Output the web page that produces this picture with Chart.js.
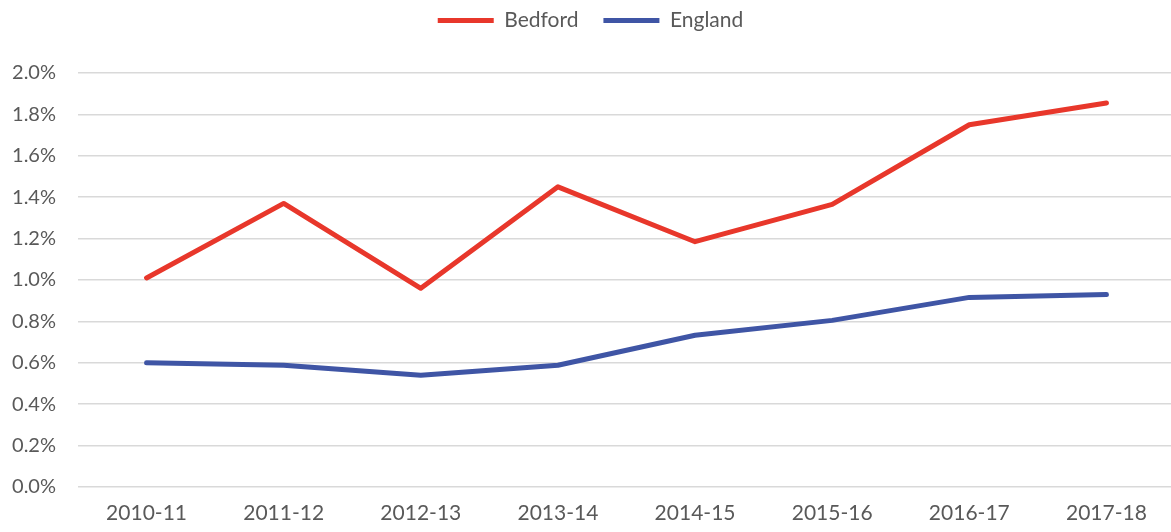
<!DOCTYPE html>
<html><head><meta charset="utf-8">
<script src="https://cdn.jsdelivr.net/npm/chart.js@4/dist/chart.umd.min.js"></script>
<style>html,body{margin:0;padding:0;background:#fff;overflow:hidden;font-family:Lato}#wrap{width:1175px;height:532px;position:relative}</style>
</head><body><div id="wrap"><canvas id="c"></canvas></div>
<script>
const categories = ["2010-11","2011-12","2012-13","2013-14","2014-15","2015-16","2016-17","2017-18"];
const bedford = [1.01, 1.37, 0.96, 1.45, 1.185, 1.365, 1.75, 1.855];
const england = [0.60, 0.588, 0.54, 0.588, 0.733, 0.805, 0.916, 0.93];
const seriesNames = ["Bedford","England"];
const colors = ["#E8372B","#3F55A5"];

const legendGap = {
  id: 'legendGap',
  afterInit(chart) {
    const lg = chart.legend;
    if (!lg || lg._gapWrapped) return;
    const fit = lg.fit;
    lg.fit = function () { fit.call(this); this.height += 32; };
    lg._gapWrapped = true;
  }
};

function draw() {
  Chart.defaults.font.family = "Lato, 'Open Sans', sans-serif";
  Chart.defaults.color = "#595959";
  new Chart(document.getElementById('c'), {
    type: 'line',
    data: {
      labels: categories,
      datasets: [
        {label: seriesNames[0], data: bedford, borderColor: colors[0], backgroundColor: colors[0], borderWidth: 5, pointRadius: 0, tension: 0, borderJoinStyle: 'round', borderCapStyle: 'round'},
        {label: seriesNames[1], data: england, borderColor: colors[1], backgroundColor: colors[1], borderWidth: 5, pointRadius: 0, tension: 0, borderJoinStyle: 'round', borderCapStyle: 'round'}
      ]
    },
    plugins: [legendGap],
    options: {
      responsive: true, maintainAspectRatio: false, animation: false,
      layout: {padding: {left: 6, right: 0, top: -15, bottom: 2}},
      plugins: {
        tooltip: {enabled: false},
        legend: {
          position: 'top',
          labels: {
            boxWidth: 56, boxHeight: 5, padding: 25,
            font: {size: 21},
            color: '#595959',
            generateLabels: (chart) => chart.data.datasets.map((d, i) => ({
              text: d.label, fillStyle: d.borderColor, strokeStyle: d.borderColor, lineWidth: 0, datasetIndex: i, fontColor: '#595959'
            }))
          }
        }
      },
      scales: {
        x: {
          offset: true,
          grid: {display: false},
          border: {display: false},
          afterFit: (s) => { s.height = 43; },
          ticks: {font: {size: 21}, color: '#595959', padding: 6, maxRotation: 0, autoSkip: false}
        },
        y: {
          min: 0, max: 2.0,
          grid: {color: '#D9D9D9', lineWidth: 1.5, drawTicks: false},
          border: {display: false},
          afterFit: (s) => { s.width = 72; },
          ticks: {stepSize: 0.2, font: {size: 20}, color: '#595959', padding: 22, callback: v => v.toFixed(1) + '%'}
        }
      }
    }
  });
}
Promise.all([document.fonts.load('21px Lato'), document.fonts.load('20px Lato')]).then(draw, draw);
</script></body></html>
